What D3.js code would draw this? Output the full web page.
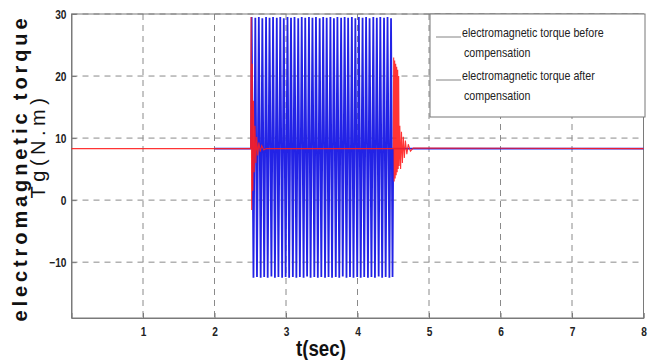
<!DOCTYPE html>
<html><head><meta charset="utf-8">
<script src="https://cdn.jsdelivr.net/npm/d3@7"></script>
<style>
html,body{margin:0;padding:0;background:#fff;}
svg{display:block;}
</style></head>
<body>
<svg id="chart" width="657" height="360"></svg>
<script>
// ---- data ----
const xTicks = [1, 2, 3, 4, 5, 6, 7, 8];
const yTicks = [-10, 0, 10, 20, 30];
const legendLabels = [["electromagnetic torque before", "compensation"], ["electromagnetic torque after", "compensation"]];

// before compensation (blue): steady value, then a dense oscillation between ~-12.5 and ~29.5
const steadyBeforeT = [2.0, 2.51];
const oscT = [
  2.520, 2.545, 2.571, 2.594, 2.620, 2.646, 2.669, 2.695, 2.721, 2.744, 2.770, 2.796, 2.819, 2.845, 2.871, 2.894, 2.920, 2.946, 2.969, 2.995,
  3.021, 3.044, 3.070, 3.096, 3.119, 3.145, 3.171, 3.194, 3.220, 3.246, 3.269, 3.295, 3.321, 3.344, 3.370, 3.396, 3.419, 3.445, 3.471, 3.494,
  3.520, 3.546, 3.569, 3.595, 3.621, 3.644, 3.670, 3.696, 3.719, 3.745, 3.771, 3.794, 3.820, 3.846, 3.869, 3.895, 3.921, 3.944, 3.970, 3.996,
  4.019, 4.045, 4.071, 4.094, 4.120, 4.146, 4.169, 4.195, 4.221, 4.244, 4.270, 4.296, 4.319, 4.345, 4.371, 4.394, 4.420, 4.446, 4.469, 4.490];
const oscV = [
  29.5, -12.5, 29.4, -12.4, 29.5, -12.5, 29.3, -12.4, 29.5, -12.5, 29.4, -12.3, 29.5, -12.5, 29.4, -12.4, 29.5, -12.5, 29.3, -12.4,
  29.5, -12.5, 29.4, -12.4, 29.5, -12.5, 29.3, -12.4, 29.5, -12.5, 29.4, -12.3, 29.5, -12.5, 29.4, -12.4, 29.5, -12.5, 29.3, -12.4,
  29.5, -12.5, 29.4, -12.4, 29.5, -12.5, 29.3, -12.4, 29.5, -12.5, 29.4, -12.3, 29.5, -12.5, 29.4, -12.4, 29.5, -12.5, 29.3, -12.4,
  29.5, -12.5, 29.4, -12.4, 29.5, -12.5, 29.3, -12.4, 29.5, -12.5, 29.4, -12.3, 29.5, -12.5, 29.4, -12.4, 29.5, -12.5, 29.3, -12.4];
const steadyAfterT = [4.50, 8.0];
const steadyValue = 8.3;

// after compensation (red): short transients at the fault start and end
const afterT = [0, 2.505, 2.512, 2.52, 2.528, 2.536, 2.545, 2.555, 2.566, 2.578, 2.59, 2.605, 2.62, 2.64, 2.66, 2.69, 2.72,
  4.50, 4.506, 4.513, 4.520, 4.527, 4.534, 4.541, 4.548, 4.555, 4.562, 4.569, 4.576, 4.583,
  4.592, 4.603, 4.615, 4.628, 4.641, 4.655, 4.67, 4.69, 4.71, 4.74, 4.78, 8.0];
const afterV = [8.3, 8.3, 29.5, -1.6, 22, 1.5, 16, 4.5, 12, 6, 10.2, 7.2, 9.3, 7.8, 8.8, 8.1, 8.3,
  8.3, 23, 3, 22.5, 3.5, 22, 4, 21.5, 4.5, 21, 5, 20, 5.5,
  12.0, 5.0, 11, 6.0, 10.2, 6.8, 9.6, 7.4, 9.0, 7.9, 8.4, 8.3];

// ---- drawing ----
const svg = d3.select("#chart");
const pL = 71.5, pR = 643.5, pT = 14, pB = 318;
const x = d3.scaleLinear().domain([0, 8]).range([pL, pR]);
const y = d3.scaleLinear().domain([-19, 30]).range([pB, pT]);
const sans = "'Liberation Sans',Arial,sans-serif";
function condense(sel, f) {
  sel.each(function () {
    const w = this.getComputedTextLength();
    d3.select(this).attr("textLength", w * f).attr("lengthAdjust", "spacingAndGlyphs");
  });
}

svg.append("rect").attr("x", 0).attr("y", 0).attr("width", 657).attr("height", 360).attr("fill", "#fff");

// grid
const g = svg.append("g");
g.selectAll(".hg").data(yTicks).join("line")
  .attr("x1", pL).attr("x2", pR)
  .attr("y1", d => y(d)).attr("y2", d => y(d))
  .attr("stroke", "#8a8a8a").attr("stroke-width", 1).attr("stroke-dasharray", "6,5");
g.selectAll(".vg").data(xTicks.filter(d => d < 8)).join("line")
  .attr("x1", d => x(d)).attr("x2", d => x(d))
  .attr("y1", pT).attr("y2", pB)
  .attr("stroke", "#8a8a8a").attr("stroke-width", 1).attr("stroke-dasharray", "6,5");

// frame
svg.append("rect").attr("x", pL).attr("y", pT).attr("width", pR - pL).attr("height", pB - pT)
  .attr("fill", "none").attr("stroke", "#7a7a7a").attr("stroke-width", 1);

// axes
const xAxis = d3.axisBottom(x).tickValues(xTicks).tickSize(-5).tickPadding(9).tickFormat(d3.format("d"));
const yAxis = d3.axisLeft(y).tickValues(yTicks).tickSize(-5).tickPadding(5).tickFormat(d3.format("d"));
const gx = svg.append("g").attr("transform", `translate(0,${pB})`).call(xAxis);
const gy = svg.append("g").attr("transform", `translate(${pL},0)`).call(yAxis);
[gx, gy].forEach(a => {
  a.select(".domain").attr("stroke", "#7a7a7a");
  a.selectAll(".tick line").attr("stroke", "#7a7a7a");
  a.selectAll("text").attr("font-family", sans).attr("font-size", 13).attr("fill", "#222").attr("font-weight", "bold");
  condense(a.selectAll("text"), 0.78);
});

// lines
const line = d3.line().x(d => x(d[0])).y(d => y(d[1]));
const beforeData = steadyBeforeT.map(t => [t, steadyValue])
  .concat(oscT.map((t, i) => [t, oscV[i]]))
  .concat(steadyAfterT.map(t => [t, steadyValue]));
const afterData = afterT.map((t, i) => [t, afterV[i]]);
svg.append("path").datum(beforeData).attr("d", line).attr("fill", "none")
  .attr("stroke", "#2323e6").attr("stroke-width", 1.8).attr("stroke-linejoin", "miter").attr("stroke-miterlimit", 1.5);
svg.append("path").datum(afterData).attr("d", line).attr("fill", "none")
  .attr("stroke", "#ff1e1e").attr("stroke-width", 1.1).attr("opacity", 0.9);

// legend
const lg = svg.append("g");
lg.append("rect").attr("x", 430).attr("y", pT).attr("width", 215).attr("height", 103)
  .attr("fill", "#fff").attr("stroke", "#777").attr("stroke-width", 1);
const rows = [37, 80];
legendLabels.forEach((lab, i) => {
  lg.append("line").attr("x1", 436).attr("x2", 461).attr("y1", rows[i]).attr("y2", rows[i])
    .attr("stroke", "#666").attr("stroke-width", 0.8);
  const t1 = lg.append("text").attr("x", 462).attr("y", rows[i]).text(lab[0])
    .attr("font-family", sans).attr("font-size", 13).attr("fill", "#222");
  const t2 = lg.append("text").attr("x", 464).attr("y", rows[i] + 20).text(lab[1])
    .attr("font-family", sans).attr("font-size", 13).attr("fill", "#222");
  condense(t1, 0.82);
  condense(t2, 0.82);
});

// titles
const xt = svg.append("text").attr("x", 296).attr("y", 356)
  .attr("font-family", sans).attr("font-weight", "bold").attr("font-size", 22).attr("fill", "#111")
  .text("t(sec)");
condense(xt, 0.85);
svg.append("text").attr("transform", "translate(27,168) rotate(-90)").attr("text-anchor", "middle")
  .attr("font-family", sans).attr("font-weight", "bold").attr("font-size", 20)
  .attr("letter-spacing", 3.9).attr("fill", "#111").text("electromagnetic torque");
svg.append("text").attr("transform", "translate(45,146) rotate(-90)").attr("text-anchor", "middle")
  .attr("font-family", sans).attr("font-size", 20)
  .attr("letter-spacing", 4.5).attr("fill", "#111").text("Tg(N.m)");
</script>
</body></html>
